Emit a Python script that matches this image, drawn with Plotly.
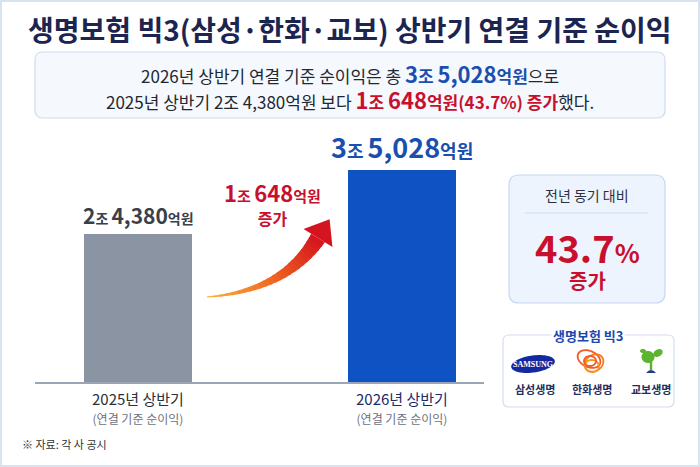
import numpy as np
import plotly.graph_objects as go

W, H = 700, 467
FONT = "Noto Sans CJK KR"

# ---------------- data ----------------
categories = ["2025년 상반기", "2026년 상반기"]
sublabels = ["(연결 기준 순이익)", "(연결 기준 순이익)"]
values = [24380, 35028]          # 억원
value_labels = [("2", "4,380"), ("3", "5,028")]
increase_jo, increase_eok = "1", "648"
increase_pct = "43.7"
companies = ["삼성생명", "한화생명", "교보생명"]
source_note = "※ 자료: 각 사 공시"

RED = "#c8102e"
BLUE = "#1a4fae"
DARK = "#222831"


def px(x):
    return x / W


def py(y):
    return 1 - y / H


fig = go.Figure()

x_pos = list(range(len(categories)))
fig.add_trace(go.Bar(
    x=x_pos, y=values, width=0.41,
    marker=dict(color=["#8a94a2", "#0f52c4"], line=dict(width=0)),
    hoverinfo="skip", showlegend=False,
))

base_px, top_px = 382, 170
ymax = values[1] * (base_px - 140) / (base_px - top_px)

shapes = []
ann = []


def A(**kw):
    kw.setdefault("xanchor", "center")
    kw.setdefault("yanchor", "middle")
    kw.setdefault("showarrow", False)
    kw.setdefault("xref", "paper")
    kw.setdefault("yref", "paper")
    ann.append(kw)


def big(s, c, sz, bold=True):
    s = f"<b>{s}</b>" if bold else s
    return f"<span style='font-size:{sz}px;color:{c}'>{s}</span>"


# outer frame
shapes.append(dict(type="rect", xref="paper", yref="paper", x0=0, y0=0, x1=1, y1=1,
                   line=dict(color="#d8e3f0", width=4), fillcolor="rgba(0,0,0,0)", layer="below"))


def rrect(x0, y0, x1, y1, r):
    X0, X1 = px(x0), px(x1)
    Y0, Y1 = py(y0), py(y1)
    rx, ry = r / W, r / H
    return (f"M{X0+rx},{Y0} L{X1-rx},{Y0} Q{X1},{Y0} {X1},{Y0-ry} L{X1},{Y1+ry} "
            f"Q{X1},{Y1} {X1-rx},{Y1} L{X0+rx},{Y1} Q{X0},{Y1} {X0},{Y1+ry} "
            f"L{X0},{Y0-ry} Q{X0},{Y0} {X0+rx},{Y0} Z")


shapes.append(dict(type="path", xref="paper", yref="paper", path=rrect(35, 52, 665, 118, 8),
                   fillcolor="#f5f8fd", line=dict(color="#cddcf0", width=1.2), layer="below"))
shapes.append(dict(type="path", xref="paper", yref="paper", path=rrect(509, 175, 665, 303, 10),
                   fillcolor="#eef4fd", line=dict(color="#c5d8f2", width=1.2), layer="below"))
shapes.append(dict(type="line", xref="paper", yref="paper", x0=px(525), x1=px(648), y0=py(213), y1=py(213),
                   line=dict(color="#c9dcf2", width=1)))
shapes.append(dict(type="path", xref="paper", yref="paper", path=rrect(503, 335, 674, 407, 6),
                   fillcolor="#ffffff", line=dict(color="#d3deed", width=1.2), layer="below"))

# title
A(x=px(350), y=py(29), text="<b>생명보험 빅3(삼성·한화·교보) 상반기 연결 기준 순이익</b>",
  font=dict(family=FONT, size=28, color="#1b2550"))

# summary (two lines in one annotation)
line1 = (big("2026년 상반기 연결 기준 순이익은 총 ", DARK, 17, False)
         + big(value_labels[1][0], BLUE, 22) + big("조 ", BLUE, 17)
         + big(value_labels[1][1], BLUE, 22) + big("억원", BLUE, 17) + big("으로", DARK, 17, False))
line2 = (big("2025년 상반기 " + value_labels[0][0] + "조 " + value_labels[0][1] + "억원 보다 ", DARK, 17, False)
         + big(increase_jo, RED, 22) + big("조 ", RED, 17) + big(increase_eok, RED, 22)
         + big(f"억원({increase_pct}%) 증가", RED, 17) + big("했다.", DARK, 17, False))
A(x=px(350), y=py(86), text=line1 + "<br>" + line2, font=dict(family=FONT, size=20, color=DARK))

# bar value labels
lab_cols = ["#3a404a", BLUE]
lab_sizes = [(21, 14), (27, 18)]
for i, (jo, eok) in enumerate(value_labels):
    n, s = lab_sizes[i]
    c = lab_cols[i]
    t = big(jo, c, n) + big("조 ", c, s) + big(eok, c, n) + big("억원", c, s)
    A(x=x_pos[i], y=values[i], xref="x", yref="y", text=t, yanchor="bottom", yshift=2,
      font=dict(family=FONT, size=n))

# category labels
cat_cols = ["#2a2f3a", "#1b2a6b"]
for i, c in enumerate(categories):
    A(x=x_pos[i], y=py(407), xref="x",
      text=big(c, cat_cols[i], 15, False) + "<br>" + big(sublabels[i], "#6b7280", 12, False),
      font=dict(family=FONT, size=14.5))

# increase annotation
t = (big(increase_jo, RED, 22) + big("조 ", RED, 15) + big(increase_eok, RED, 22) + big("억원", RED, 15)
     + "<br>" + big("증가", RED, 16))
A(x=px(272), y=py(203), text=t, font=dict(family=FONT, size=17.5))

# arrow (gradient by segments)
P0, P1, P2 = np.array([207., 297.]), np.array([285., 291.]), np.array([318., 238.])
N = 24
ts = np.linspace(0, 1, N + 1)


def bez(t):
    return (1 - t) ** 2 * P0 + 2 * (1 - t) * t * P1 + t ** 2 * P2


def dbez(t):
    return 2 * (1 - t) * (P1 - P0) + 2 * t * (P2 - P1)


def edge(t):
    p = bez(t)
    d = dbez(t)
    d = d / np.linalg.norm(d)
    n = np.array([-d[1], d[0]])
    w = 0.6 + 7.5 * t ** 1.2
    return p + n * w, p - n * w


c0 = np.array([0xfb, 0xb0, 0x3b])
c1 = np.array([0xf2, 0x65, 0x22])
c2 = np.array([0xd4, 0x14, 0x1f])


def col(t):
    c = c0 + (c1 - c0) * (t / 0.5) if t < 0.5 else c1 + (c2 - c1) * ((t - 0.5) / 0.5)
    return "rgb(%d,%d,%d)" % tuple(c.astype(int))


for i in range(N):
    a, b = ts[i], min(ts[i + 1] + 0.01, 1)
    u0, l0 = edge(a)
    u1, l1 = edge(b)
    pts = [u0, u1, l1, l0]
    path = "M" + " L".join(f"{px(p[0])},{py(p[1])}" for p in pts) + " Z"
    shapes.append(dict(type="path", xref="paper", yref="paper", path=path,
                       fillcolor=col((a + b) / 2), line=dict(width=0)))
d = dbez(1)
d = d / np.linalg.norm(d)
nrm = np.array([-d[1], d[0]])
tip = P2 + d * 22
w1 = P2 + nrm * 17
w2 = P2 - nrm * 17
path = "M" + " L".join(f"{px(p[0])},{py(p[1])}" for p in [tip, w1, w2]) + " Z"
shapes.append(dict(type="path", xref="paper", yref="paper", path=path,
                   fillcolor="#d4141f", line=dict(width=0)))

# YoY box texts
A(x=px(587), y=py(195), text="전년 동기 대비", font=dict(family=FONT, size=14, color="#2a3142"))
A(x=px(587), y=py(246), text=big(increase_pct, RED, 38) + big("%", RED, 26), font=dict(family=FONT, size=30))
A(x=px(587), y=py(280), text=big("증가", RED, 20), font=dict(family=FONT, size=20))

# legend box
A(x=px(588), y=py(335), text="<b>생명보험 빅3</b>", bgcolor="#ffffff", borderpad=1,
  font=dict(family=FONT, size=13, color="#1b48b0"))
logo_x = [535, 592, 651]
for i, c in enumerate(companies):
    A(x=px(logo_x[i]), y=py(389), text=f"<b>{c}</b>", font=dict(family=FONT, size=11, color="#1f2f5e"))


def ellipse_path(cx, cy, rx, ry, rot_deg, n=60):
    th = np.linspace(0, 2 * np.pi, n)
    r = np.deg2rad(rot_deg)
    xs = cx + rx * np.cos(th) * np.cos(r) - ry * np.sin(th) * np.sin(r)
    ys = cy + rx * np.cos(th) * np.sin(r) + ry * np.sin(th) * np.cos(r)
    return "M" + " L".join(f"{px(a)},{py(b)}" for a, b in zip(xs, ys)) + " Z"


# Samsung
shapes.append(dict(type="path", xref="paper", yref="paper", path=ellipse_path(533, 364, 22, 8.5, -8),
                   fillcolor="#1428a0", line=dict(width=0)))
A(x=px(533), y=py(364), text="<b>SAMSUNG</b>", font=dict(family="Liberation Sans Narrow", size=8, color="#ffffff"))
# Hanwha
for (cx, cy, rx, ry, rot, c) in [(589, 359, 12, 8, 25, "#f15a22"), (594, 363, 10, 8, -35, "#f47a20"),
                                 (592, 366, 7, 6, 10, "#f7941d"), (590, 361, 6, 5, 0, "#f15a22")]:
    shapes.append(dict(type="path", xref="paper", yref="paper", path=ellipse_path(cx, cy, rx, ry, rot),
                       fillcolor="rgba(0,0,0,0)", line=dict(color=c, width=1.8)))
# Kyobo
shapes.append(dict(type="path", xref="paper", yref="paper", path=ellipse_path(648, 357, 6.5, 6, 0),
                   fillcolor="#5db42f", line=dict(width=0)))
shapes.append(dict(type="path", xref="paper", yref="paper", path=ellipse_path(658, 353, 5, 3.5, -30),
                   fillcolor="#5db42f", line=dict(width=0)))
shapes.append(dict(type="path", xref="paper", yref="paper", path=ellipse_path(643, 351, 3, 2, 0),
                   fillcolor="#5db42f", line=dict(width=0)))
shapes.append(dict(type="line", xref="paper", yref="paper", x0=px(651), x1=px(651), y0=py(361), y1=py(370),
                   line=dict(color="#5db42f", width=2.5)))
shapes.append(dict(type="path", xref="paper", yref="paper",
                   path=f"M{px(646)},{py(373)} Q{px(651)},{py(367)} {px(656)},{py(373)} Z",
                   fillcolor="#1f3a8a", line=dict(width=0)))

# footnote
A(x=px(20), y=py(444), xanchor="left", text=source_note, font=dict(family=FONT, size=11, color="#333333"))

fig.update_layout(
    width=W, height=H, margin=dict(l=0, r=0, t=0, b=0),
    paper_bgcolor="#ffffff", plot_bgcolor="rgba(0,0,0,0)",
    xaxis=dict(domain=[px(35), px(484)], range=[(35 - 138) / 264, 1 + (484 - 402) / 264],
               showgrid=False, zeroline=False, showticklabels=False, ticks="",
               showline=True, linecolor="#9aa5b5", linewidth=2, fixedrange=True),
    yaxis=dict(domain=[py(base_px), py(140)], range=[0, ymax], showgrid=False, zeroline=False,
               showticklabels=False, showline=False, fixedrange=True),
    shapes=shapes, annotations=ann, bargap=0,
)

fig.write_html("out.html", config={"displayModeBar": False},
               post_script="document.body.style.margin='0';document.body.style.overflow='hidden';")
